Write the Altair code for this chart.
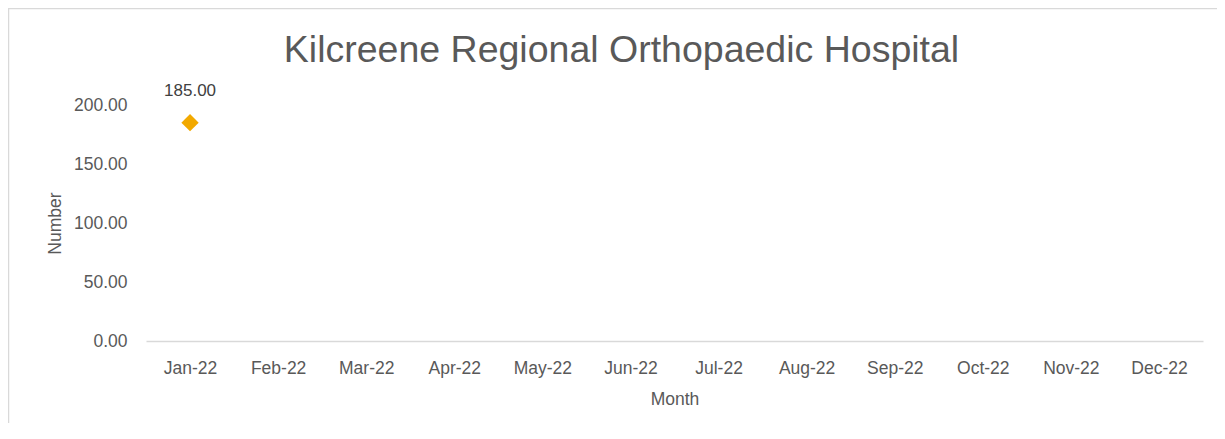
import altair as alt
import pandas as pd

months = ["Jan-22", "Feb-22", "Mar-22", "Apr-22", "May-22", "Jun-22",
          "Jul-22", "Aug-22", "Sep-22", "Oct-22", "Nov-22", "Dec-22"]
values = [185.0, None, None, None, None, None, None, None, None, None, None, None]
y_ticks = [0, 50, 100, 150, 200]

df = pd.DataFrame({"Month": months, "Number": values})
pts = df.dropna()

FONT = "Liberation Sans, Arial"
GREY = "#595959"

x = alt.X("Month:N", scale=alt.Scale(domain=months, type="point", padding=0.5),
          axis=alt.Axis(title="Month", labelAngle=0, ticks=False, domainColor="#d9d9d9",
                        domainWidth=1.5, labelPadding=18, titlePadding=14))
y = alt.Y("Number:Q", scale=alt.Scale(domain=[0, 200], nice=False),
          axis=alt.Axis(title="Number", values=y_ticks, format=".2f", grid=False,
                        domain=False, ticks=False, labelPadding=19, titlePadding=9))

frame = alt.Chart(pd.DataFrame({"a": [0]})).mark_rect(
    fill=None, stroke="#d9d9d9", strokeWidth=1.5
).encode(x=alt.value(-137.5), x2=alt.value(1100), y=alt.value(-96.5), y2=alt.value(400))

points = alt.Chart(pts).mark_point(
    shape="diamond", filled=True, size=300, color="#F2A900", opacity=1
).encode(x=x, y=y)

labels = alt.Chart(pts).mark_text(
    dy=-32, fontSize=17, color="#404040", font=FONT
).encode(x=x, y=y, text=alt.Text("Number:Q", format=".2f"))

chart = alt.layer(frame, points, labels).properties(
    width=1057, height=236,
    title=alt.TitleParams("Kilcreene Regional Orthopaedic Hospital", fontSize=37.5,
                          font="Liberation Sans", fontWeight="normal", color=GREY,
                          anchor="middle", baseline="alphabetic", dx=-53, dy=92, offset=0),
    autosize=alt.AutoSizeParams(type="none"),
    padding={"left": 138, "top": 97, "right": 14, "bottom": 82},
).configure_view(stroke=None).configure_axis(
    labelFont=FONT, titleFont=FONT, labelFontSize=17.5, titleFontSize=17.5,
    labelColor=GREY, titleColor=GREY, titleFontWeight="normal"
)

chart.save("out.html", embed_options={"renderer": "svg", "actions": False})
